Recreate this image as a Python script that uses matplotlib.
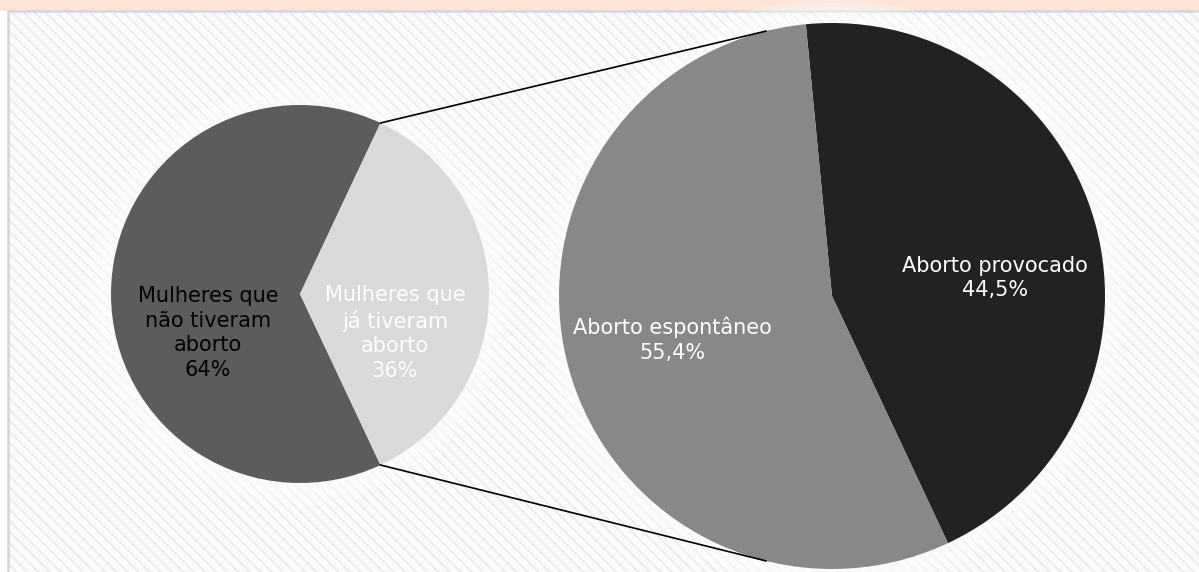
import numpy as np
import matplotlib
matplotlib.use("Agg")
import matplotlib.pyplot as plt
from matplotlib.patches import Rectangle, Circle

# data
main_labels = ["Mulheres que\nnão tiveram\naborto\n64%", "Mulheres que\njá tiveram\naborto\n36%"]
main_values = [64, 36]
main_colors = ["#5c5c5c", "#d9d9d9"]
main_text = ["black", "white"]

sub_labels = ["Aborto provocado\n44,5%", "Aborto espontâneo\n55,4%"]
sub_values = [44.5, 55.4]
sub_colors = ["#222222", "#888888"]

W, H = 1199, 572
plt.rcParams["hatch.linewidth"] = 1.6

fig = plt.figure(figsize=(W / 100, H / 100), dpi=100)
fig.patch.set_facecolor("white")
ax = fig.add_axes([0, 0, 1, 1])
ax.set_xlim(0, W)
ax.set_ylim(0, H)
ax.axis("off")

# peach strip on top and the striped panel
ax.add_patch(Rectangle((0, H - 11), W, 11, facecolor="#fce4d9", edgecolor="none", zorder=0))
ax.add_patch(Rectangle((8, -10), W, H - 11 + 10, facecolor="#fbfbfb", edgecolor="#ededed",
                       linewidth=0, hatch="\\\\\\", zorder=1))
ax.add_patch(Rectangle((8, -10), W, H - 11 + 10, facecolor="none", edgecolor="#d6d6d6",
                       linewidth=1.8, zorder=1))

# pie geometry (pixels, y up)
c1, r1 = (300, H - 294), 189
c2, r2 = (832, H - 296), 273

# soft white glow around the pies
for c, r in [(c1, r1), (c2, r2)]:
    for k in range(6, 0, -1):
        ax.add_patch(Circle(c, r + k * 4, facecolor="white", edgecolor="none", alpha=0.16, zorder=2))

half = 360 * main_values[1] / sum(main_values) / 2
w1, _ = ax.pie(main_values, colors=main_colors, center=c1, radius=r1, startangle=half,
               counterclock=True, frame=True, wedgeprops=dict(linewidth=0))
w2, _ = ax.pie(sub_values, colors=sub_colors, center=c2, radius=r2, startangle=95.5,
               counterclock=False, frame=True, wedgeprops=dict(linewidth=0))
for w in w1 + w2:
    w.set_zorder(3)
ax.set_xlim(0, W)
ax.set_ylim(0, H)
ax.axis("off")

# connector lines from the split slice to the secondary pie
for sgn in (1, -1):
    a1 = np.radians(sgn * half)
    a2 = np.radians(sgn * 104)
    p1 = (c1[0] + r1 * np.cos(a1), c1[1] + r1 * np.sin(a1))
    p2 = (c2[0] + r2 * np.cos(a2), c2[1] + r2 * np.sin(a2))
    ax.plot([p1[0], p2[0]], [p1[1], p2[1]], color="black", linewidth=1.2, zorder=4)

font = dict(family="DejaVu Sans", fontsize=15, ha="center", va="center",
            linespacing=1.3, zorder=5)
ax.text(c1[0] - 92, c1[1] - 39, main_labels[0], color=main_text[0], **font)
ax.text(c1[0] + 95, c1[1] - 39, main_labels[1], color=main_text[1], **font)
ax.text(c2[0] + 163, c2[1] + 18, sub_labels[0], color="white", **font)
ax.text(c2[0] - 160, c2[1] - 44, sub_labels[1], color="white", **font)

fig.savefig("out.png", dpi=100)
